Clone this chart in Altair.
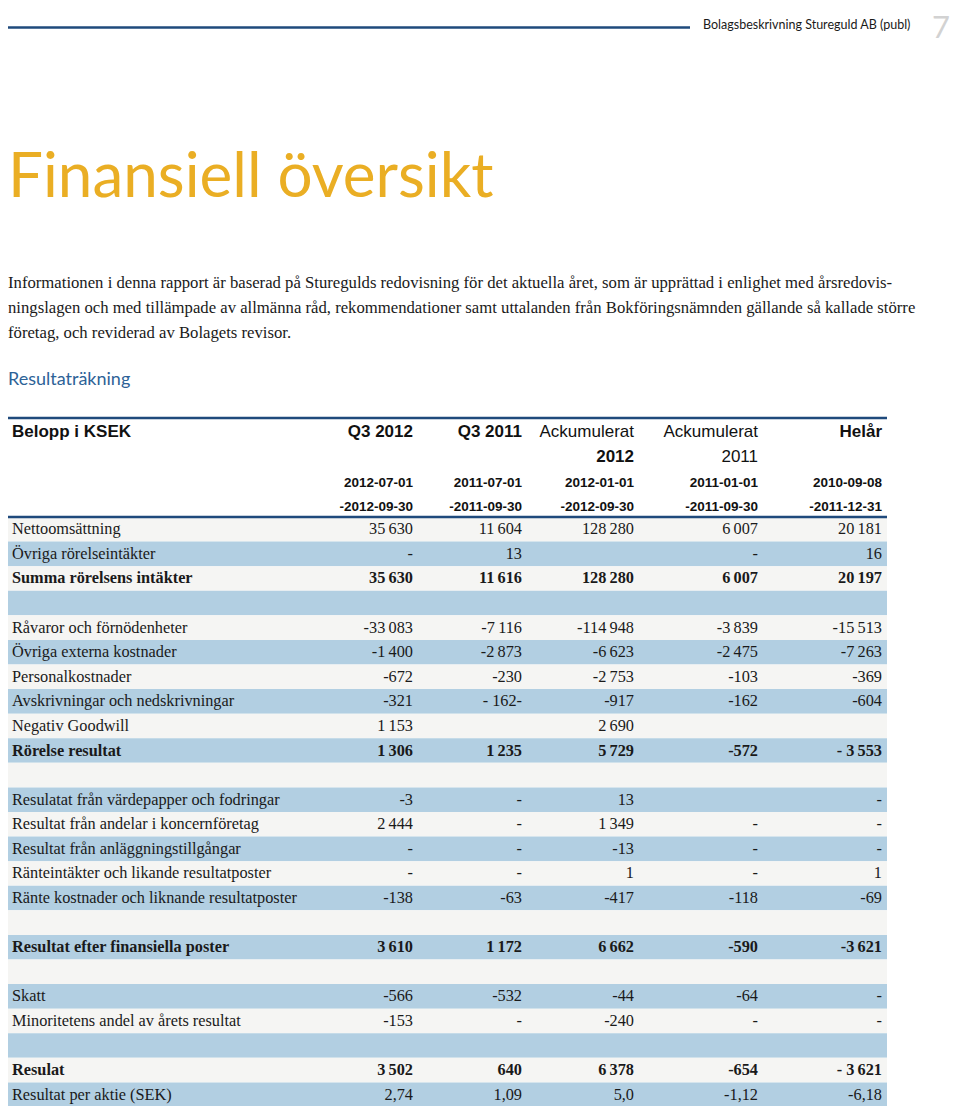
import altair as alt
import pandas as pd

# ---------------- data ----------------
labels = [
    "Nettoomsättning", "Övriga rörelseintäkter", "Summa rörelsens intäkter", "",
    "Råvaror och förnödenheter", "Övriga externa kostnader", "Personalkostnader",
    "Avskrivningar och nedskrivningar", "Negativ Goodwill", "Rörelse resultat", "",
    "Resulatat från värdepapper och fodringar", "Resultat från andelar i koncernföretag",
    "Resultat från anläggningstillgångar", "Ränteintäkter och likande resultatposter",
    "Ränte kostnader och liknande resultatposter", "",
    "Resultat efter finansiella poster", "",
    "Skatt", "Minoritetens andel av årets resultat", "",
    "Resulat", "Resultat per aktie (SEK)",
]
bold_rows = [2, 9, 17, 22]
S = "\u2009"
q3_2012 = ["35"+S+"630", "-", "35"+S+"630", "", "-33"+S+"083", "-1"+S+"400", "-672", "-321",
           "1"+S+"153", "1"+S+"306", "", "-3", "2"+S+"444", "-", "-", "-138", "", "3"+S+"610", "",
           "-566", "-153", "", "3"+S+"502", "2,74"]
q3_2011 = ["11"+S+"604", "13", "11"+S+"616", "", "-7"+S+"116", "-2"+S+"873", "-230", "- 162-",
           "", "1"+S+"235", "", "-", "-", "-", "-", "-63", "", "1"+S+"172", "",
           "-532", "-", "", "640", "1,09"]
ack_2012 = ["128"+S+"280", "", "128"+S+"280", "", "-114"+S+"948", "-6"+S+"623", "-2"+S+"753", "-917",
            "2"+S+"690", "5"+S+"729", "", "13", "1"+S+"349", "-13", "1", "-417", "", "6"+S+"662", "",
            "-44", "-240", "", "6"+S+"378", "5,0"]
ack_2011 = ["6"+S+"007", "-", "6"+S+"007", "", "-3"+S+"839", "-2"+S+"475", "-103", "-162",
            "", "-572", "", "", "-", "-", "-", "-118", "", "-590", "",
            "-64", "-", "", "-654", "-1,12"]
helar = ["20"+S+"181", "16", "20"+S+"197", "", "-15"+S+"513", "-7"+S+"263", "-369", "-604",
         "", "- 3"+S+"553", "", "-", "-", "-", "1", "-69", "", "-3"+S+"621", "",
         "-", "-", "", "- 3"+S+"621", "-6,18"]

col_keys = ["q3_2012", "q3_2011", "ack_2012", "ack_2011", "helar"]
head1 = ["Q3 2012", "Q3 2011", "Ackumulerat", "Ackumulerat", "Helår"]
head1_bold = [True, True, False, False, True]
head2 = ["", "", "2012", "2011", ""]
head2_bold = [False, False, True, False, False]
date_from = ["2012-07-01", "2011-07-01", "2012-01-01", "2011-01-01", "2010-09-08"]
date_to = ["-2012-09-30", "-2011-09-30", "-2012-09-30", "-2011-09-30", "-2011-12-31"]

page_header = "Bolagsbeskrivning Stureguld AB (publ)"
page_no = "7"
title = "Finansiell översikt"
paragraph = [
    "Informationen i denna rapport är baserad på Sturegulds redovisning för det aktuella året, som är upprättad i enlighet med årsredovis-",
    "ningslagen och med tillämpade av allmänna råd, rekommendationer samt uttalanden från Bokföringsnämnden gällande så kallade större",
    "företag, och reviderad av Bolagets revisor.",
]
section = "Resultaträkning"
corner = "Belopp i KSEK"

df = pd.DataFrame({
    "label": labels, "row": list(range(len(labels))),
    "q3_2012": q3_2012, "q3_2011": q3_2011, "ack_2012": ack_2012,
    "ack_2011": ack_2011, "helar": helar,
})
df["bold"] = df["row"].isin(bold_rows)
df["stripe"] = df["row"] % 2

# ---------------- layout / style ----------------
W, H = 944, 1098
SERIF = "Liberation Serif"
SANS = "Liberation Sans"
HUM = "Lato"
DARK = "#1a1a1a"
NAVY = "#1f4a7c"
col_x = [405, 514, 626, 750, 874]
table_right = 879
CELL = 16.3

yscale = alt.Scale(domain=[-0.5, len(labels) - 0.5], range=[509, 1099])


def txt(s, x, y, size, font, color=DARK, weight="normal", align="left", baseline="middle"):
    return alt.Chart(pd.DataFrame({"t": [s]})).mark_text(
        font=font, fontSize=size, fontWeight=weight, color=color,
        align=align, baseline=baseline,
    ).encode(x=alt.value(x), y=alt.value(y), text="t:N")


def hrule(x1, x2, y, color, width):
    return alt.Chart(pd.DataFrame({"a": [0]})).mark_rule(
        color=color, strokeWidth=width
    ).encode(x=alt.value(x1), x2=alt.value(x2), y=alt.value(y))


layers = []

# page furniture
layers.append(hrule(0, 682, 19.5, NAVY, 2.5))
layers.append(txt(page_header, 695, 17, 12.5, HUM, DARK))
layers.append(txt(page_no, 942, 30, 31, HUM, "#d2d2d2", align="right", baseline="alphabetic"))
layers.append(txt(title, 0, 189, 62, HUM, "#eaae24", baseline="alphabetic"))
for i, line in enumerate(paragraph):
    layers.append(txt(line, 0, 275 + i * 25, 16.7, SERIF, DARK))
layers.append(txt(section, 0, 372, 18, HUM, "#2d6297"))

# stripes
stripes = alt.Chart(df).transform_calculate(
    y0="datum.row - 0.5", y1="datum.row + 0.5"
).mark_rect().encode(
    x=alt.value(0), x2=alt.value(table_right),
    y=alt.Y("y0:Q", scale=yscale, axis=None), y2="y1:Q",
    color=alt.Color("stripe:N", scale=alt.Scale(domain=[0, 1], range=["#f5f5f3", "#b2cfe2"]), legend=None),
)
layers.append(stripes)

# table rules
layers.append(hrule(0, table_right, 410, NAVY, 2.5))
layers.append(hrule(0, table_right, 509, NAVY, 2.5))

# table header
layers.append(txt(corner, 4, 424, 17, SANS, "#111111", weight="bold"))
for k in range(5):
    layers.append(txt(head1[k], col_x[k], 424, 17, SANS, "#111111",
                      weight="bold" if head1_bold[k] else "normal", align="right"))
    if head2[k]:
        layers.append(txt(head2[k], col_x[k], 449, 17, SANS, "#111111",
                          weight="bold" if head2_bold[k] else "normal", align="right"))
    layers.append(txt(date_from[k], col_x[k], 475, 13.5, SANS, "#111111", weight="bold", align="right"))
    layers.append(txt(date_to[k], col_x[k], 499, 13.5, SANS, "#111111", weight="bold", align="right"))

# row labels and values
for is_bold in (False, True):
    flt = "datum.bold" if is_bold else "!datum.bold"
    w = "bold" if is_bold else "normal"
    base = alt.Chart(df).transform_filter(flt)
    layers.append(base.mark_text(font=SERIF, fontSize=CELL, fontWeight=w, color=DARK,
                                 align="left", baseline="middle").encode(
        x=alt.value(4), y=alt.Y("row:Q", scale=yscale, axis=None), text="label:N"))
    for k, key in enumerate(col_keys):
        layers.append(base.mark_text(font=SERIF, fontSize=CELL, fontWeight=w, color=DARK,
                                     align="right", baseline="middle").encode(
            x=alt.value(col_x[k]), y=alt.Y("row:Q", scale=yscale, axis=None), text=f"{key}:N"))

chart = alt.layer(*layers).properties(
    width=W, height=H, autosize=alt.AutoSizeParams(type="none"), padding=0,
    background="white",
).configure_view(strokeWidth=0)

chart.save("out.html", embed_options={"renderer": "svg", "actions": False})
